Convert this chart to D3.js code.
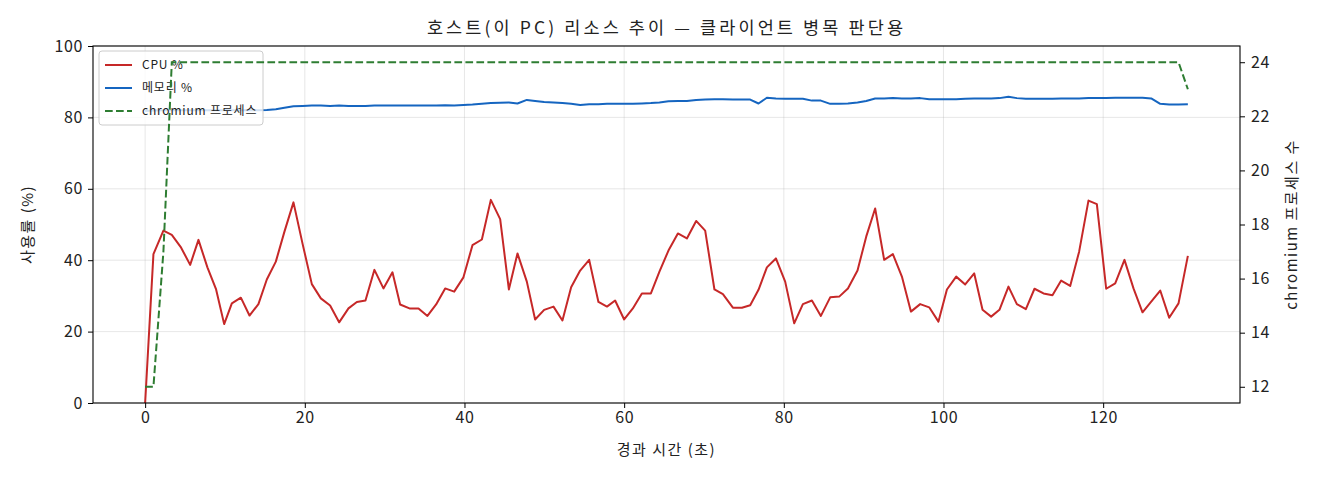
<!DOCTYPE html>
<meta charset="utf-8">
<script src="https://d3js.org/d3.v7.min.js"></script>
<style>
  body { margin: 0; background: #fff; }
  text { font-family: "Noto Sans CJK KR", "Noto Sans", sans-serif; fill: #222; }
</style>
<div id="chart"></div>
<script>
// elapsed time of each sample (s)
var times = [0, 1.04, 2.29, 3.34, 4.51, 5.64, 6.68, 7.80, 8.89, 9.90,
  10.86, 11.99, 13.07, 14.19, 15.24, 16.37, 17.45, 18.58, 19.73, 20.88,
  22.01, 23.17, 24.30, 25.47, 26.52, 27.60, 28.72, 29.85, 30.98, 31.94,
  33.11, 34.24, 35.36, 36.45, 37.58, 38.71, 39.87, 41.00, 42.18, 43.30,
  44.47, 45.56, 46.64, 47.81, 48.85, 49.98, 51.15, 52.27, 53.36, 54.49,
  55.62, 56.78, 57.85, 58.87, 60.00, 61.09, 62.22, 63.35, 64.42, 65.55,
  66.73, 67.86, 69.02, 70.15, 71.31, 72.37, 73.62, 74.75, 75.79, 76.83,
  77.88, 79.01, 80.17, 81.30, 82.39, 83.52, 84.64, 85.81, 86.94, 88.03,
  89.23, 90.32, 91.44, 92.57, 93.66, 94.79, 95.92, 97.08, 98.21, 99.37,
  100.43, 101.59, 102.72, 103.85, 104.89, 105.97, 107.01, 108.14, 109.19, 110.32,
  111.40, 112.53, 113.65, 114.74, 115.87, 116.99, 118.16, 119.21, 120.38, 121.51,
  122.67, 123.80, 124.93, 126.02, 127.15, 128.27, 129.44, 130.61];

var cpu = [0, 41.7, 48.3, 47.1, 43.5, 38.7, 45.7, 38.0, 31.8, 22.1,
  27.9, 29.5, 24.5, 27.7, 34.6, 39.6, 48.0, 56.2, 44.5, 33.3,
  29.3, 27.3, 22.6, 26.5, 28.3, 28.7, 37.3, 32.1, 36.6, 27.6,
  26.5, 26.5, 24.4, 27.6, 32.1, 31.2, 35.2, 44.2, 45.8, 56.9,
  51.5, 31.8, 41.9, 34.0, 23.4, 26.1, 27.0, 23.1, 32.4, 37.1,
  40.1, 28.3, 27.0, 28.7, 23.4, 26.5, 30.7, 30.7, 36.8, 42.7,
  47.5, 46.1, 51.0, 48.3, 31.8, 30.5, 26.7, 26.7, 27.4, 31.7,
  38.0, 40.5, 34.0, 22.3, 27.7, 28.7, 24.4, 29.6, 29.8, 32.1,
  37.1, 46.6, 54.5, 40.1, 41.7, 35.4, 25.6, 27.7, 26.8, 22.8,
  31.8, 35.4, 33.2, 36.3, 26.1, 24.2, 26.1, 32.6, 27.7, 26.3,
  32.0, 30.7, 30.2, 34.3, 32.8, 42.4, 56.7, 55.7, 32.0, 33.5,
  40.1, 32.1, 25.4, 28.4, 31.5, 23.9, 27.9, 41.2];

var memory = [81.8, 81.9, 82.0, 82.0, 82.0, 82.0, 82.0, 82.0, 82.0, 82.0,
  82.0, 82.0, 82.0, 82.0, 82.1, 82.3, 82.7, 83.1, 83.2, 83.3,
  83.3, 83.2, 83.3, 83.2, 83.2, 83.2, 83.3, 83.3, 83.3, 83.3,
  83.3, 83.3, 83.3, 83.3, 83.4, 83.3, 83.5, 83.6, 83.8, 84.0,
  84.1, 84.2, 83.9, 84.9, 84.6, 84.3, 84.2, 84.0, 83.8, 83.5,
  83.7, 83.7, 83.8, 83.8, 83.8, 83.8, 83.9, 84.0, 84.2, 84.5,
  84.6, 84.6, 84.9, 85.0, 85.1, 85.1, 85.0, 85.0, 85.0, 83.9,
  85.5, 85.3, 85.2, 85.2, 85.2, 84.7, 84.7, 83.8, 83.8, 83.9,
  84.2, 84.6, 85.3, 85.3, 85.4, 85.3, 85.3, 85.4, 85.1, 85.1,
  85.1, 85.1, 85.2, 85.3, 85.3, 85.3, 85.4, 85.8, 85.4, 85.2,
  85.2, 85.2, 85.2, 85.3, 85.3, 85.3, 85.4, 85.4, 85.4, 85.5,
  85.5, 85.5, 85.5, 85.3, 83.8, 83.6, 83.6, 83.7];

var procs = [12, 12, 17, 24, 24, 24, 24, 24, 24, 24,
  24, 24, 24, 24, 24, 24, 24, 24, 24, 24,
  24, 24, 24, 24, 24, 24, 24, 24, 24, 24,
  24, 24, 24, 24, 24, 24, 24, 24, 24, 24,
  24, 24, 24, 24, 24, 24, 24, 24, 24, 24,
  24, 24, 24, 24, 24, 24, 24, 24, 24, 24,
  24, 24, 24, 24, 24, 24, 24, 24, 24, 24,
  24, 24, 24, 24, 24, 24, 24, 24, 24, 24,
  24, 24, 24, 24, 24, 24, 24, 24, 24, 24,
  24, 24, 24, 24, 24, 24, 24, 24, 24, 24,
  24, 24, 24, 24, 24, 24, 24, 24, 24, 24,
  24, 24, 24, 24, 24, 24, 24, 23];

var xTicks = [0, 20, 40, 60, 80, 100, 120];
var yTicks = [0, 20, 40, 60, 80, 100];
var y2Ticks = [12, 14, 16, 18, 20, 22, 24];

var seriesNames = ["CPU %", "메모리 %", "chromium 프로세스"];
var colors = ["#c62828", "#1565c0", "#2e7d32"];

var W = 1320, H = 480;
var margin = {top: 46, right: 80, bottom: 77, left: 93},
    width = W - margin.left - margin.right,
    height = H - margin.top - margin.bottom;

var svg = d3.select("#chart").append("svg")
    .attr("width", W).attr("height", H);
var g = svg.append("g")
    .attr("transform", "translate(" + margin.left + "," + margin.top + ")");

// matplotlib-ish 5% margins on x and on the right axis
var xmin = d3.min(times), xmax = d3.max(times), xpad = (xmax - xmin) * 0.05;
var x = d3.scaleLinear().domain([xmin - xpad, xmax + xpad]).range([0, width]);
var y = d3.scaleLinear().domain([0, 100]).range([height, 0]);
var pmin = d3.min(procs), pmax = d3.max(procs), ppad = (pmax - pmin) * 0.05;
var y2 = d3.scaleLinear().domain([pmin - ppad, pmax + ppad]).range([height, 0]);

// grid
g.append("g").selectAll("line").data(xTicks).enter().append("line")
    .attr("x1", d => x(d)).attr("x2", d => x(d))
    .attr("y1", 0).attr("y2", height)
    .attr("stroke", "#b0b0b0").attr("stroke-opacity", 0.3).attr("stroke-width", 1);
g.append("g").selectAll("line").data(yTicks).enter().append("line")
    .attr("y1", d => y(d)).attr("y2", d => y(d))
    .attr("x1", 0).attr("x2", width)
    .attr("stroke", "#b0b0b0").attr("stroke-opacity", 0.3).attr("stroke-width", 1);

var idx = d3.range(times.length);

g.append("path").datum(idx)
    .attr("fill", "none").attr("stroke", colors[0]).attr("stroke-width", 2)
    .attr("stroke-linejoin", "round")
    .attr("d", d3.line().x(i => x(times[i])).y(i => y(cpu[i])));

g.append("path").datum(idx)
    .attr("fill", "none").attr("stroke", colors[1]).attr("stroke-width", 2)
    .attr("stroke-linejoin", "round")
    .attr("d", d3.line().x(i => x(times[i])).y(i => y(memory[i])));

// legend (sits on the left axes, under the right-axis line)
var leg = g.append("g").attr("transform", "translate(6,5)");
leg.append("rect")
    .attr("width", 164).attr("height", 74).attr("rx", 3)
    .attr("fill", "#fff").attr("fill-opacity", 0.8)
    .attr("stroke", "#cccccc").attr("stroke-width", 1);
seriesNames.forEach(function(name, i) {
  var row = leg.append("g").attr("transform", "translate(0," + (14 + i * 23) + ")");
  row.append("line")
      .attr("x1", 6).attr("x2", 33)
      .attr("stroke", colors[i]).attr("stroke-width", 2)
      .attr("stroke-dasharray", i == 2 ? "7.7,3.3" : null);
  row.append("text")
      .attr("x", 43).attr("dy", "0.35em")
      .style("font-size", "12px").style("letter-spacing", "0.8px")
      .text(name);
});

g.append("path").datum(idx)
    .attr("fill", "none").attr("stroke", colors[2]).attr("stroke-width", 2)
    .attr("stroke-dasharray", "7.7,3.3")
    .attr("d", d3.line().x(i => x(times[i])).y(i => y2(procs[i])));

// axes
function styleAxis(sel) {
  sel.select(".domain").remove();
  sel.selectAll(".tick line").attr("stroke", "#000").attr("stroke-width", 1);
  sel.selectAll(".tick text").style("font-size", "16px").style("letter-spacing", "0.6px").attr("fill", "#222");
}
g.append("g").attr("transform", "translate(0," + height + ")")
    .call(d3.axisBottom(x).tickValues(xTicks).tickSize(5).tickPadding(4))
    .call(styleAxis);
g.append("g")
    .call(d3.axisLeft(y).tickValues(yTicks).tickSize(5).tickPadding(5))
    .call(styleAxis);
g.append("g").attr("transform", "translate(" + width + ",0)")
    .call(d3.axisRight(y2).tickValues(y2Ticks).tickSize(5).tickPadding(6))
    .call(styleAxis);

// spines
g.append("rect").attr("width", width).attr("height", height)
    .attr("fill", "none").attr("stroke", "#000").attr("stroke-width", 1.1);

// labels
svg.append("text")
    .attr("x", margin.left + width / 2).attr("y", 34)
    .attr("text-anchor", "middle").style("font-size", "17.5px").style("letter-spacing", "3.1px")
    .text("호스트(이 PC) 리소스 추이 — 클라이언트 병목 판단용");
svg.append("text")
    .attr("x", margin.left + width / 2).attr("y", 455)
    .attr("text-anchor", "middle").style("font-size", "15px").style("letter-spacing", "1.5px")
    .text("경과 시간 (초)");
svg.append("text")
    .attr("transform", "translate(33," + (margin.top + height / 2) + ") rotate(-90)")
    .attr("text-anchor", "middle").style("font-size", "15px").style("letter-spacing", "1.5px")
    .text("사용률 (%)");
svg.append("text")
    .attr("transform", "translate(1297," + (margin.top + height / 2) + ") rotate(-90)")
    .attr("text-anchor", "middle").style("font-size", "15px").style("letter-spacing", "1.5px")
    .text("chromium 프로세스 수");
</script>
